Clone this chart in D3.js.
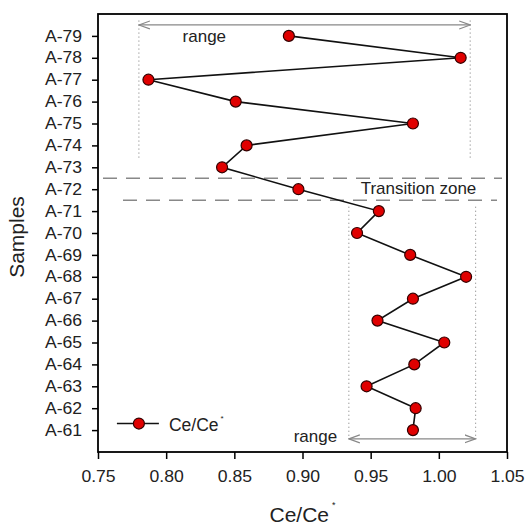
<!DOCTYPE html>
<html>
<head>
<meta charset="utf-8">
<script src="https://cdn.jsdelivr.net/npm/d3@7"></script>
<style>
  body { margin: 0; background: #fff; }
  text { font-family: "Liberation Sans", Arial, sans-serif; }
</style>
</head>
<body>
<div id="chart"></div>
<script>
// sample numbers (A-61 ... A-79) and Ce/Ce* values
var samples = [61, 62, 63, 64, 65, 66, 67, 68, 69, 70, 71, 72, 73, 74, 75, 76, 77, 78, 79];
var ceValues = [0.981, 0.983, 0.947, 0.982, 1.004, 0.955, 0.981, 1.020, 0.979, 0.940,
                0.956, 0.897, 0.841, 0.859, 0.981, 0.851, 0.787, 1.016, 0.890];
var xTicks = [0.75, 0.80, 0.85, 0.90, 0.95, 1.00, 1.05];

// range bands and transition zone
var upperRange = [0.780, 1.023];
var lowerRange = [0.934, 1.027];
var transitionZone = [71.5, 72.5];

var margin = {top: 14, right: 18, bottom: 75, left: 98},
    width = 525 - margin.left - margin.right,
    height = 527 - margin.top - margin.bottom;

var svg = d3.select("#chart")
  .append("svg")
    .attr("width", 525)
    .attr("height", 527)
  .append("g")
    .attr("transform", "translate(" + margin.left + "," + margin.top + ")");

var x = d3.scaleLinear().domain([0.75, 1.05]).range([0, width]);
var y = d3.scaleLinear().domain([60, 80]).range([height, 0]);

// arrow heads (open V)
var defs = svg.append("defs");
defs.append("marker")
    .attr("id", "vhead")
    .attr("viewBox", "0 0 12 10")
    .attr("refX", 11).attr("refY", 5)
    .attr("markerWidth", 12).attr("markerHeight", 10)
    .attr("markerUnits", "userSpaceOnUse")
    .attr("orient", "auto-start-reverse")
  .append("path")
    .attr("d", "M0,1 L11,5 L0,9")
    .attr("fill", "none")
    .attr("stroke", "#888")
    .attr("stroke-width", 1.2);

// axes
var xAxis = svg.append("g")
    .attr("transform", "translate(0," + height + ")")
    .call(d3.axisBottom(x).tickValues(xTicks).tickFormat(d3.format(".2f")).tickSize(7).tickSizeOuter(0));
var yAxis = svg.append("g")
    .call(d3.axisLeft(y).tickValues(samples).tickFormat(function(d) { return "A-" + d; }).tickSize(6).tickSizeOuter(0));

[xAxis, yAxis].forEach(function(a) {
  a.select(".domain").remove();
  a.selectAll("line").attr("stroke", "#000").attr("stroke-width", 1.5);
  a.selectAll("text").style("font-size", "16px").attr("fill", "#222")
    .attr("transform", "scale(1.1,1)");
});
xAxis.selectAll("text").attr("y", 19).attr("dy", "0.71em");
yAxis.selectAll("text").attr("x", -14.5);

// frame
svg.append("rect")
    .attr("width", width).attr("height", height)
    .attr("fill", "none").attr("stroke", "#000").attr("stroke-width", 1.8);

// transition zone dashed lines
svg.append("line")
    .attr("x1", 5).attr("x2", width - 5)
    .attr("y1", y(transitionZone[1])).attr("y2", y(transitionZone[1]))
    .attr("stroke", "#888").attr("stroke-width", 1.5).attr("stroke-dasharray", "14,9");
svg.append("line")
    .attr("x1", 25).attr("x2", width - 10)
    .attr("y1", y(transitionZone[0])).attr("y2", y(transitionZone[0]))
    .attr("stroke", "#888").attr("stroke-width", 1.5).attr("stroke-dasharray", "14,9");
svg.append("text")
    .attr("x", x(1.0275)).attr("y", y(72) + 5)
    .attr("text-anchor", "end")
    .style("font-size", "17px")
    .attr("fill", "#222")
    .text("Transition zone");

// upper range
[upperRange[0], upperRange[1]].forEach(function(v) {
  svg.append("line")
      .attr("x1", x(v)).attr("x2", x(v))
      .attr("y1", y(79.7)).attr("y2", y(73.4))
      .attr("stroke", "#777").attr("stroke-width", 1).attr("stroke-dasharray", "1,3");
});
svg.append("line")
    .attr("x1", x(upperRange[0])).attr("x2", x(upperRange[1]))
    .attr("y1", y(79.5)).attr("y2", y(79.5))
    .attr("stroke", "#888").attr("stroke-width", 1.3)
    .attr("marker-start", "url(#vhead)").attr("marker-end", "url(#vhead)");
svg.append("text")
    .attr("x", x(0.828)).attr("y", y(79) + 6)
    .attr("text-anchor", "middle")
    .style("font-size", "17px")
    .attr("fill", "#222")
    .text("range");

// lower range
[lowerRange[0], lowerRange[1]].forEach(function(v) {
  svg.append("line")
      .attr("x1", x(v)).attr("x2", x(v))
      .attr("y1", y(71.2)).attr("y2", y(60.6))
      .attr("stroke", "#777").attr("stroke-width", 1).attr("stroke-dasharray", "1,3");
});
svg.append("line")
    .attr("x1", x(lowerRange[0])).attr("x2", x(lowerRange[1]))
    .attr("y1", y(60.6)).attr("y2", y(60.6))
    .attr("stroke", "#888").attr("stroke-width", 1.3)
    .attr("marker-start", "url(#vhead)").attr("marker-end", "url(#vhead)");
svg.append("text")
    .attr("x", x(0.9095)).attr("y", y(60.6) + 3)
    .attr("text-anchor", "middle")
    .style("font-size", "17px")
    .attr("fill", "#222")
    .text("range");

// data line + points
var data = samples.map(function(s, i) { return {s: s, v: ceValues[i]}; });
svg.append("path")
    .datum(data)
    .attr("d", d3.line().x(function(d) { return x(d.v); }).y(function(d) { return y(d.s); }))
    .attr("fill", "none").attr("stroke", "#111").attr("stroke-width", 1.6);
svg.selectAll("circle.pt")
    .data(data)
    .enter().append("circle")
    .attr("class", "pt")
    .attr("cx", function(d) { return x(d.v); })
    .attr("cy", function(d) { return y(d.s); })
    .attr("r", 5.5)
    .attr("fill", "#e00000").attr("stroke", "#300").attr("stroke-width", 1.2);

// legend
var lg = svg.append("g").attr("transform", "translate(" + x(0.78) + "," + y(61.3) + ")");
lg.append("line").attr("x1", -22).attr("x2", 20).attr("stroke", "#111").attr("stroke-width", 1.6);
lg.append("circle").attr("r", 5.5).attr("fill", "#e00000").attr("stroke", "#300").attr("stroke-width", 1.2);
var lt = lg.append("text").attr("x", 30).attr("y", 7).style("font-size", "17.5px").attr("fill", "#222");
lt.append("tspan").text("Ce/Ce");
lt.append("tspan").attr("dy", -10).attr("dx", 2).style("font-size", "8px").text("*");

// axis titles
svg.append("text")
    .attr("transform", "translate(" + (-74) + "," + (height / 2 + 4) + ") rotate(-90)")
    .attr("text-anchor", "middle")
    .style("font-size", "21px")
    .attr("fill", "#222")
    .text("Samples");
var xt = svg.append("text")
    .attr("x", width / 2).attr("y", height + 70)
    .attr("text-anchor", "middle")
    .style("font-size", "21px")
    .attr("fill", "#222");
xt.append("tspan").text("Ce/Ce");
xt.append("tspan").attr("dy", -14).attr("dx", 3).style("font-size", "9px").text("*");
</script>
</body>
</html>
